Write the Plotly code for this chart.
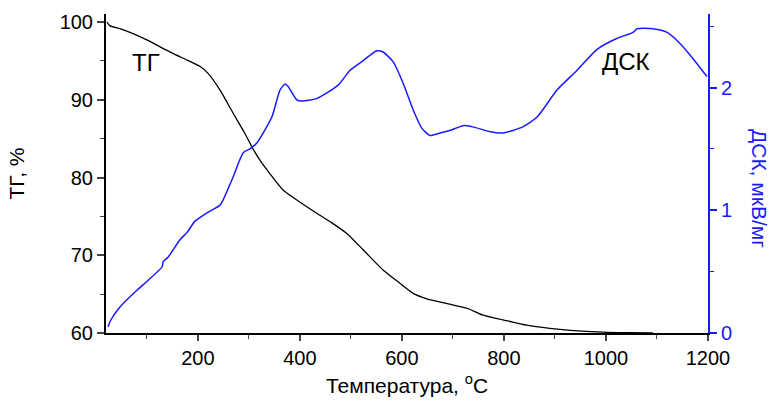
import plotly.graph_objects as go

# TG curve (black), mass %, vs temperature °C
tg_t = [22, 28, 50, 73, 100, 126, 150, 179, 204, 220, 243, 269, 292, 308, 322, 340, 367, 394,
        433, 462, 492, 524, 563, 596, 622, 649, 694, 727, 759, 798, 845, 890, 930, 994, 1040, 1092]
tg_v = [100.0, 99.5, 99.1, 98.5, 97.7, 96.8, 96.0, 95.1, 94.3, 93.4, 91.3, 88.3, 85.7, 83.7, 82.2, 80.6, 78.4, 77.1,
        75.4, 74.2, 72.8, 70.7, 68.1, 66.4, 65.1, 64.4, 63.7, 63.2, 62.3, 61.7, 61.0, 60.6, 60.35, 60.1, 60.03, 60.0]

# DSC curve (blue), µV/mg
dsc_t = [24, 30, 47, 81, 100, 130, 132, 142, 165, 179, 194, 218, 243, 249, 269, 289, 302, 316,
         345, 361, 371, 377, 394, 404, 433, 475, 498, 524, 551, 563, 583, 602, 622, 639, 655,
         675, 694, 720, 739, 773, 798, 837, 865, 904, 943, 982, 1021, 1053, 1061, 1092, 1120,
         1145, 1170, 1198]
dsc_v = [0.05, 0.11, 0.21, 0.35, 0.42, 0.54, 0.58, 0.62, 0.76, 0.82, 0.91, 0.98, 1.04, 1.08, 1.27, 1.47, 1.50, 1.55,
         1.76, 1.98, 2.03, 2.01, 1.90, 1.89, 1.91, 2.02, 2.14, 2.22, 2.30, 2.29, 2.21, 2.04, 1.82, 1.67, 1.61,
         1.63, 1.65, 1.69, 1.68, 1.64, 1.63, 1.68, 1.76, 1.98, 2.14, 2.31, 2.40, 2.45, 2.48, 2.48, 2.45,
         2.36, 2.24, 2.09]

x_ticks = [200, 400, 600, 800, 1000, 1200]
x_minor = [100, 300, 500, 700, 900, 1100]
tg_ticks = [60, 70, 80, 90, 100]
tg_minor = [65, 75, 85, 95]
dsc_ticks = [0, 1, 2]
dsc_minor = [0.5, 1.5, 2.5]

FONT = "Liberation Sans, Arial, sans-serif"
BLUE = "#1a1aff"

L, R, T, B = 106, 64, 14, 70
W, H = 772, 403
pw, ph = W - L - R, H - T - B


def px(x):
    return (x - L) / pw


def py(y):
    return (H - B - y) / ph


fig = go.Figure()
fig.add_trace(go.Scatter(x=tg_t, y=tg_v, mode="lines",
                         line=dict(color="black", width=1.3, shape="spline", smoothing=0.6),
                         showlegend=False, hoverinfo="skip"))
fig.add_trace(go.Scatter(x=dsc_t, y=dsc_v, mode="lines", yaxis="y2",
                         line=dict(color=BLUE, width=1.5, shape="spline", smoothing=0.6),
                         showlegend=False, hoverinfo="skip"))

fig.update_layout(
    width=W, height=H,
    margin=dict(l=L, r=R, t=T, b=B, autoexpand=False),
    plot_bgcolor="white", paper_bgcolor="white",
    font=dict(family=FONT, size=20, color="black"),
    xaxis=dict(range=[20, 1200], tickvals=x_ticks, ticks="outside", ticklen=6, tickwidth=1.5,
               showline=True, linecolor="black", linewidth=2, showgrid=False, zeroline=False,
               automargin=False,
               minor=dict(tickvals=x_minor, ticks="outside", ticklen=4, tickwidth=1.2),
               title=dict(text="Температура, <sup>o</sup>C", font=dict(size=21), standoff=10)),
    xaxis2=dict(range=[20, 1200], overlaying="x", side="top", tickvals=x_ticks, ticks="inside", ticklen=6,
                tickwidth=1.5, showticklabels=False, showline=True, linecolor="black", linewidth=2,
                showgrid=False, zeroline=False, automargin=False,
                minor=dict(tickvals=x_minor, ticks="inside", ticklen=4, tickwidth=1.2)),
    yaxis=dict(range=[60, 101.03], tickvals=tg_ticks, ticks="outside", ticklen=7, tickwidth=1.5,
               showline=True, linecolor="black", linewidth=2, showgrid=False, zeroline=False,
               automargin=False,
               minor=dict(tickvals=tg_minor, ticks="outside", ticklen=4, tickwidth=1.2),
               title=dict(text="ТГ, %", font=dict(size=21), standoff=29)),
    yaxis2=dict(range=[0, 2.6], overlaying="y", side="right", tickvals=dsc_ticks, ticks="outside",
                ticklen=7, tickwidth=1.5, showline=True, linecolor=BLUE, linewidth=2, tickcolor=BLUE,
                tickfont=dict(color=BLUE, size=20), showgrid=False, zeroline=False, automargin=False,
                minor=dict(tickvals=dsc_minor, ticks="outside", ticklen=4, tickwidth=1.2, tickcolor=BLUE)),
    annotations=[
        dict(text="ТГ", x=px(146), y=py(62), xref="paper", yref="paper", showarrow=False,
             xanchor="center", yanchor="middle", font=dict(size=24, color="black")),
        dict(text="ДСК", x=px(626), y=py(61), xref="paper", yref="paper", showarrow=False,
             xanchor="center", yanchor="middle", font=dict(size=24, color="black")),
        dict(text="ДСК, мкВ/мг", x=px(760), y=py(189), xref="paper", yref="paper", showarrow=False,
             xanchor="center", yanchor="middle", textangle=90, font=dict(size=21, color=BLUE)),
    ],
)

fig.write_html("out.html", config={"displayModeBar": False})

# remove the default page margin so the figure sits at the window's top-left corner
with open("out.html", encoding="utf-8") as f:
    html = f.read()
html = html.replace("<body>", '<body style="margin:0;padding:0;overflow:hidden">', 1)
with open("out.html", "w", encoding="utf-8") as f:
    f.write(html)
